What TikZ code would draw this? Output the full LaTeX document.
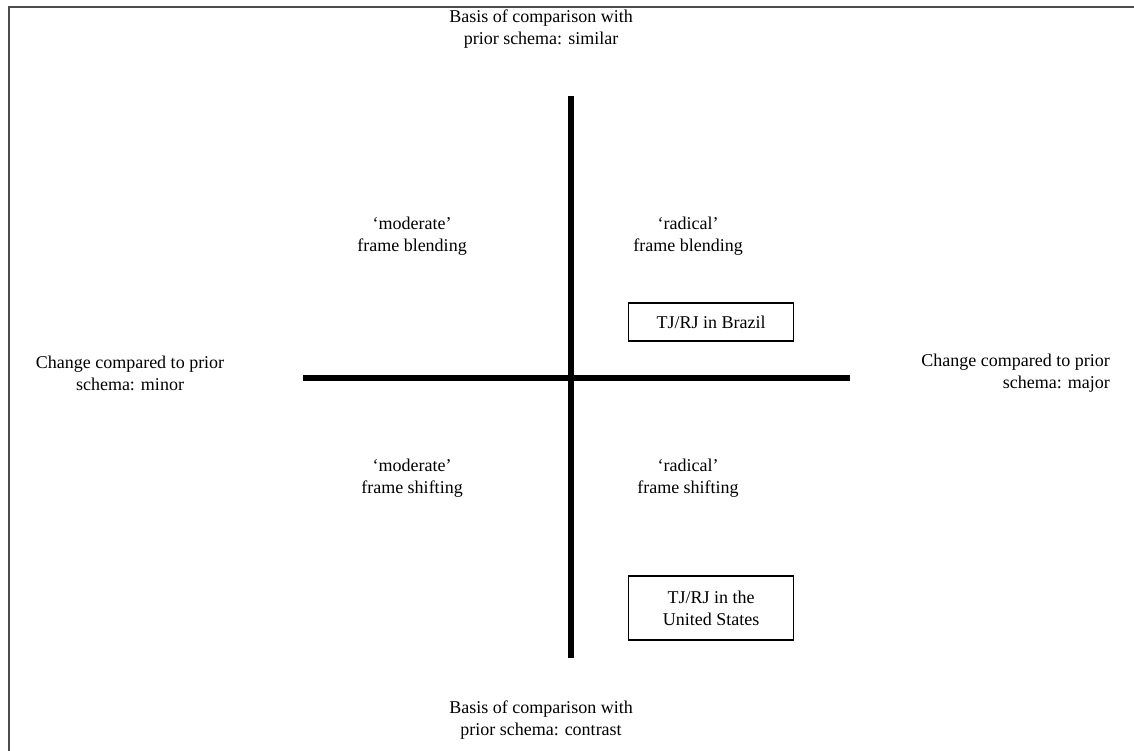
\documentclass[tikz,border=0pt]{standalone}
\usepackage{fontspec}
\setmainfont{Liberation Serif}
\begin{document}
\begin{tikzpicture}[x=1pt,y=-1pt,
  lbl/.style={align=center,inner sep=0pt,font=\fontsize{18}{22}\selectfont},
  lblr/.style={align=right,inner sep=0pt,font=\fontsize{18}{22}\selectfont},
  axis/.style={line width=6.5pt},
  casebox/.style={draw,line width=1.5pt,inner sep=0pt,minimum width=165pt,align=center,font=\fontsize{18}{22}\selectfont}]
\useasboundingbox (0,0) rectangle (1134,751);
\draw[line width=2pt,black!70] (9,760) -- (9,7) -- (1140,7);
% axes
\coordinate (vt) at (571,96);
\coordinate (vb) at (571,658);
\coordinate (hl) at (303,378);
\coordinate (hr) at (850,378);
\draw[axis] (vt) -- (vb);
\draw[axis] (hl) -- (hr);
% labels
\node[lbl] (top) at (541,29) {Basis of comparison with\\prior schema: similar};
\node[lbl] (bot) at (541,720) {Basis of comparison with\\prior schema: contrast};
\node[lbl] (left) at (130,373) {Change compared to prior\\schema: minor};
\node[lblr,anchor=east] (right) at (1110,373) {Change compared to prior\\schema: major};
\node[lbl] (mb) at (412,236) {`moderate'\\frame blending};
\node[lbl] (rb) at (688,236) {`radical'\\frame blending};
\node[lbl] (ms) at (412,478) {`moderate'\\frame shifting};
\node[lbl] (rs) at (688,478) {`radical'\\frame shifting};
\node[casebox,minimum height=38pt] (br) at (711,322) {TJ/RJ in Brazil};
\node[casebox,minimum height=64pt] (us) at (711,608) {TJ/RJ in the\\United States};
\end{tikzpicture}
\end{document}
